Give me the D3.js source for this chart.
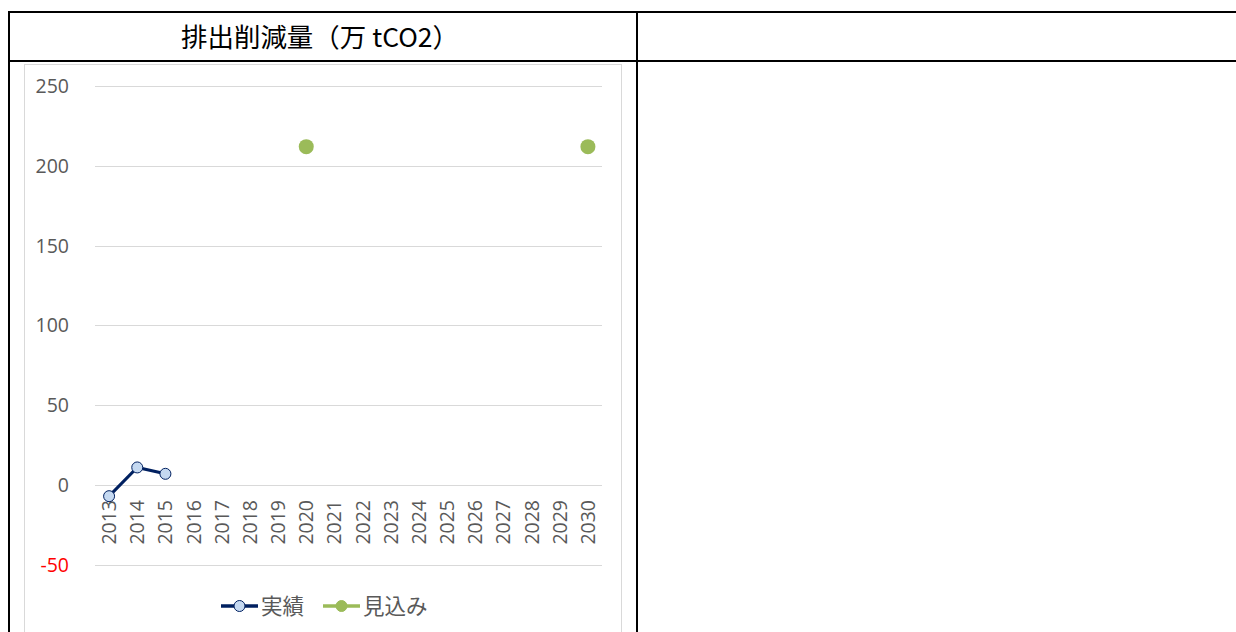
<!DOCTYPE html>
<html>
<head>
<meta charset="utf-8">
<script src="https://cdn.jsdelivr.net/npm/d3@7"></script>
<style>
  body { margin: 0; background: #fff; }
  svg { display: block; }
</style>
</head>
<body>
<div id="chart"></div>
<script>
// Data
const years = d3.range(2013, 2031).map(String);
const actualYears = ["2013", "2014", "2015"];
const actualValues = [-7, 11, 7];
const forecastYears = ["2020", "2030"];
const forecastValues = [212, 212];
const yTicks = [-50, 0, 50, 100, 150, 200, 250];
const seriesNames = ["実績", "見込み"];
const titleText = "排出削減量（万 tCO2）";

const W = 1236, H = 632;
const navy = "#002060", lightBlue = "#c5d9f1", green = "#9bbb59";
const cjkFont = "'Noto Sans CJK JP', 'Noto Sans', sans-serif";
const numFont = "'Open Sans', 'Noto Sans', sans-serif";

const svg = d3.select("#chart").append("svg")
  .attr("width", W)
  .attr("height", H);

// Table frame around the chart
const frame = svg.append("g").attr("stroke", "#000").attr("stroke-width", 2);
frame.append("line").attr("x1", 8).attr("x2", W).attr("y1", 12).attr("y2", 12);
frame.append("line").attr("x1", 8).attr("x2", W).attr("y1", 61).attr("y2", 61);
frame.append("line").attr("x1", 9).attr("x2", 9).attr("y1", 11).attr("y2", H);
frame.append("line").attr("x1", 637).attr("x2", 637).attr("y1", 11).attr("y2", H);

// Header text, stretched to the monospace width of the original
svg.append("text")
  .attr("x", 181)
  .attr("y", 47)
  .attr("textLength", 278)
  .attr("lengthAdjust", "spacingAndGlyphs")
  .style("font-family", cjkFont)
  .style("font-size", "26px")
  .style("fill", "#000")
  .text(titleText);

// Chart area border
svg.append("rect")
  .attr("x", 24.5).attr("y", 64.5)
  .attr("width", 597).attr("height", 620)
  .attr("fill", "none")
  .attr("stroke", "#d9d9d9");

// Scales
const x = d3.scaleBand().domain(years).range([95, 602]);
const y = d3.scaleLinear().domain([-50, 250]).range([564.8, 86]);

// Gridlines
svg.append("g")
  .selectAll("line")
  .data(yTicks)
  .enter()
  .append("line")
  .attr("x1", 95).attr("x2", 602)
  .attr("y1", d => Math.round(y(d)) + 0.5)
  .attr("y2", d => Math.round(y(d)) + 0.5)
  .attr("stroke", "#d9d9d9")
  .attr("stroke-width", 1);

// Y labels
svg.append("g")
  .selectAll("text")
  .data(yTicks)
  .enter()
  .append("text")
  .attr("x", 69)
  .attr("y", d => y(d))
  .attr("dy", "0.36em")
  .attr("text-anchor", "end")
  .style("font-family", numFont)
  .style("font-size", "19.5px")
  .style("fill", d => d < 0 ? "#ff0000" : "#595959")
  .text(d => d);

// X labels (rotated)
svg.append("g")
  .selectAll("text")
  .data(years)
  .enter()
  .append("text")
  .attr("transform", d => `translate(${x(d) + x.bandwidth() / 2},500) rotate(-90)`)
  .attr("text-anchor", "end")
  .attr("dy", "0.36em")
  .style("font-family", numFont)
  .style("font-size", "19.5px")
  .style("fill", "#595959")
  .text(d => d);

// 実績 series
const actual = actualYears.map((yr, i) => ({ yr, v: actualValues[i] }));
const line = d3.line()
  .x(d => x(d.yr) + x.bandwidth() / 2)
  .y(d => y(d.v));

svg.append("path")
  .datum(actual)
  .attr("fill", "none")
  .attr("stroke", navy)
  .attr("stroke-width", 3)
  .attr("d", line);

svg.selectAll(".actual-pt")
  .data(actual)
  .enter()
  .append("circle")
  .attr("class", "actual-pt")
  .attr("cx", d => x(d.yr) + x.bandwidth() / 2)
  .attr("cy", d => y(d.v))
  .attr("r", 5.5)
  .attr("fill", lightBlue)
  .attr("stroke", navy)
  .attr("stroke-width", 1);

// 見込み series
const forecast = forecastYears.map((yr, i) => ({ yr, v: forecastValues[i] }));
svg.selectAll(".fc-pt")
  .data(forecast)
  .enter()
  .append("circle")
  .attr("class", "fc-pt")
  .attr("cx", d => x(d.yr) + x.bandwidth() / 2)
  .attr("cy", d => y(d.v))
  .attr("r", 7.5)
  .attr("fill", green);

// Legend
const legend = svg.append("g").attr("transform", "translate(221,606)");
const items = [
  { name: seriesNames[0], color: navy, fill: lightBlue, stroke: navy, x: 0 },
  { name: seriesNames[1], color: green, fill: green, stroke: green, x: 102 }
];
items.forEach(it => {
  const row = legend.append("g").attr("transform", `translate(${it.x},0)`);
  row.append("line")
    .attr("x1", 0).attr("x2", 37)
    .attr("y1", 0).attr("y2", 0)
    .attr("stroke", it.color)
    .attr("stroke-width", 3.5);
  row.append("circle")
    .attr("cx", 18.5).attr("cy", 0)
    .attr("r", 5.5)
    .attr("fill", it.fill)
    .attr("stroke", it.stroke)
    .attr("stroke-width", 1);
  row.append("text")
    .attr("x", 40)
    .attr("y", 0)
    .attr("dy", "0.36em")
    .style("font-family", cjkFont)
    .style("font-size", "21.5px")
    .style("fill", "#595959")
    .text(it.name);
});
</script>
</body>
</html>
